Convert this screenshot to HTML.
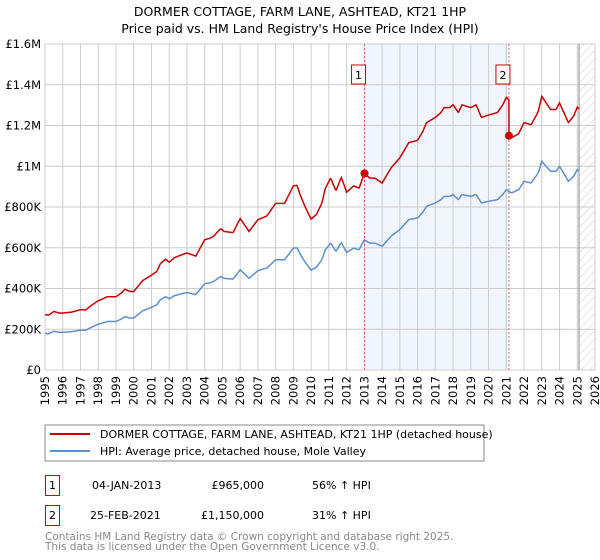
<!DOCTYPE html>
<html><head><meta charset="utf-8"><style>
body{margin:0;background:#fff;}
svg{display:block;font-family:"DejaVu Sans","Liberation Sans",sans-serif;}
</style></head><body>
<svg id="chart" width="600" height="560" viewBox="0 0 600 560">
<defs>
<pattern id="hatch" width="6" height="6" patternUnits="userSpaceOnUse" patternTransform="rotate(45)">
<line x1="0" y1="0" x2="0" y2="6" stroke="#ccc" stroke-width="1"/>
</pattern>
</defs>
<text x="300" y="16" text-anchor="middle" font-size="12.5">DORMER COTTAGE, FARM LANE, ASHTEAD, KT21 1HP</text>
<text x="300" y="33" text-anchor="middle" font-size="12.5">Price paid vs. HM Land Registry's House Price Index (HPI)</text>
<g id="plot"></g>
<rect x="45" y="425" width="439" height="36" fill="#fff" stroke="#888"/>
<line x1="50" y1="434" x2="90" y2="434" stroke="#cc0000" stroke-width="2"/>
<text x="100" y="438" font-size="11">DORMER COTTAGE, FARM LANE, ASHTEAD, KT21 1HP (detached house)</text>
<line x1="50" y1="451" x2="90" y2="451" stroke="#5b8fd4" stroke-width="2"/>
<text x="100" y="455" font-size="11">HPI: Average price, detached house, Mole Valley</text>
<g font-size="11">
<rect x="45.5" y="475.5" width="14" height="20" fill="#fff" stroke="#cc0000"/>
<text x="52.5" y="489" text-anchor="middle">1</text>
<text x="92" y="489">04-JAN-2013</text>
<text x="264" y="489" text-anchor="end">£965,000</text>
<text x="312" y="489">56% ↑ HPI</text>
<rect x="45.5" y="505.5" width="14" height="20" fill="#fff" stroke="#cc0000"/>
<text x="52.5" y="519" text-anchor="middle">2</text>
<text x="90" y="519">25-FEB-2021</text>
<text x="264" y="519" text-anchor="end">£1,150,000</text>
<text x="312" y="519">31% ↑ HPI</text>
</g>
<text x="45" y="540" font-size="10.5" fill="#888">Contains HM Land Registry data © Crown copyright and database right 2025.</text>
<text x="45" y="550" font-size="10.5" fill="#888">This data is licensed under the Open Government Licence v3.0.</text>
</svg>
<script>
const hpiYears = [1995,1995.2,1995.5,1995.8,1996,1996.5,1997,1997.3,1997.5,1998,1998.3,1998.5,1999,1999.3,1999.5,1999.8,2000,2000.5,2001,2001.3,2001.5,2001.8,2002,2002.3,2002.6,2003,2003.5,2004,2004.3,2004.5,2004.9,2005.1,2005.6,2006,2006.5,2007,2007.5,2008,2008.5,2009,2009.2,2009.4,2009.7,2010,2010.3,2010.6,2010.8,2011.1,2011.4,2011.7,2012,2012.4,2012.7,2013,2013.3,2013.6,2014,2014.5,2015,2015.5,2016,2016.3,2016.5,2017,2017.3,2017.5,2017.8,2018,2018.3,2018.5,2019,2019.3,2019.6,2020,2020.5,2020.8,2021,2021.3,2021.7,2022,2022.4,2022.8,2023,2023.5,2023.8,2024,2024.5,2024.8,2025,2025.1];
const hpiValues = [180000,178000,190000,185000,185000,188000,196000,195000,205000,225000,232000,238000,238000,250000,262000,255000,255000,290000,308000,320000,345000,360000,350000,365000,372000,380000,370000,423000,428000,434000,459000,450000,446000,492000,450000,488000,500000,541000,541000,598000,600000,566000,525000,490000,505000,541000,590000,623000,582000,626000,577000,598000,590000,639000,623000,623000,607000,656000,689000,738000,746000,775000,803000,820000,835000,852000,852000,861000,836000,861000,852000,861000,820000,828000,836000,861000,885000,869000,885000,926000,918000,967000,1024000,975000,975000,1000000,926000,951000,984000,975000];
const saleYears = [2013.01, 2021.15];
const salePrices = [965000, 1150000];
const saleLabels = ["1","2"];
const yTicks = [0,200000,400000,600000,800000,1000000,1200000,1400000,1600000];
const yTickLabels = ["£0","£200K","£400K","£600K","£800K","£1M","£1.2M","£1.4M","£1.6M"];
const xTickYears = [1995,1996,1997,1998,1999,2000,2001,2002,2003,2004,2005,2006,2007,2008,2009,2010,2011,2012,2013,2014,2015,2016,2017,2018,2019,2020,2021,2022,2023,2024,2025,2026];

const X0=45,X1=595,Y0=370,Y1=44;
function xs(t){return X0+(t-1995)/(2026-1995)*(X1-X0);}
function ys(v){return Y0-v/1600000*(Y0-Y1);}
function hpiAt(t){
  for(let i=0;i<hpiYears.length-1;i++){
    if(t<=hpiYears[i+1]){const f=(t-hpiYears[i])/(hpiYears[i+1]-hpiYears[i]);return hpiValues[i]+f*(hpiValues[i+1]-hpiValues[i]);}
  }
  return hpiValues[hpiValues.length-1];
}
const NS="http://www.w3.org/2000/svg";
const g=document.getElementById('plot');
function mk(tag,attrs){const e=document.createElementNS(NS,tag);for(const k in attrs)e.setAttribute(k,attrs[k]);g.appendChild(e);return e;}

let e;
e=mk('rect',{x:xs(saleYears[0]),y:Y1,width:xs(saleYears[1])-xs(saleYears[0]),height:Y0-Y1,fill:'#eef3fc',opacity:0.8});


const hatchStart=2025.1;
e=mk('rect',{x:xs(hatchStart),y:Y1,width:X1-xs(hatchStart),height:Y0-Y1,fill:'url(#hatch)'});


xTickYears.forEach((yr,i)=>{
  const l=mk('line',{x1:xs(yr),x2:xs(yr),y1:Y1,y2:Y0,stroke:'#ccc','stroke-width':1});
  
  
  const tx=xs(yr)+4, ty=Y0+6;
  const t=mk('text',{x:tx,y:ty,'font-size':11.5,'text-anchor':'end',transform:'rotate(-90 '+tx.toFixed(1)+' '+ty+')'});
  t.textContent=yr;
  
  
});
yTicks.forEach((v,i)=>{
  const l=mk('line',{x1:X0,x2:X1,y1:ys(v),y2:ys(v),stroke:'#ccc','stroke-width':1});
  
  
  const t=mk('text',{x:41,y:ys(v)+4,'font-size':11.5,'text-anchor':'end'});
  t.textContent=yTickLabels[i];
  
  
});
e=mk('line',{x1:xs(hatchStart),x2:xs(hatchStart),y1:Y1,y2:Y0,stroke:'#888','stroke-width':1});


saleYears.forEach((sy,i)=>{
  const l=mk('line',{x1:xs(sy),x2:xs(sy),y1:Y1,y2:Y0,stroke:'#e06060','stroke-width':1,'stroke-dasharray':'2,2'});
  
  
});
let d='';
const tEnd=hpiYears[hpiYears.length-1];
for(let t=1995;t<=tEnd+1e-9;t+=1/24){d+=(d?'L':'M')+xs(t).toFixed(1)+','+ys(hpiAt(t)).toFixed(1);}
e=mk('path',{d:d,fill:'none',stroke:'#5b8fd4','stroke-width':1.5});


function propAt(t){
  let k=0;for(let i=0;i<saleYears.length;i++){if(t>=saleYears[i])k=i;}
  return salePrices[k]*hpiAt(t)/hpiAt(saleYears[k]);
}
d='';
const pts=[];
for(let t=1995;t<=tEnd+1e-9;t+=1/24)pts.push(t);
saleYears.forEach(s=>{pts.push(s-0.0001);pts.push(s);});
pts.sort((a,b)=>a-b);
pts.forEach(t=>{d+=(d?'L':'M')+xs(t).toFixed(1)+','+ys(propAt(t)).toFixed(1);});
e=mk('path',{d:d,fill:'none',stroke:'#cc0000','stroke-width':1.5});


saleYears.forEach((sy,i)=>{
  const c=mk('circle',{cx:xs(sy),cy:ys(salePrices[i]),r:4,fill:'#cc0000'});
  
  
  const bx=xs(sy)-13;
  const r=mk('rect',{x:bx,y:65,width:14,height:19,fill:'#fff',stroke:'#cc0000'});
  
  
  const t=mk('text',{x:bx+7,y:79,'font-size':11,'text-anchor':'middle'});
  t.textContent=saleLabels[i];
  
  
});
</script>
</body></html>
